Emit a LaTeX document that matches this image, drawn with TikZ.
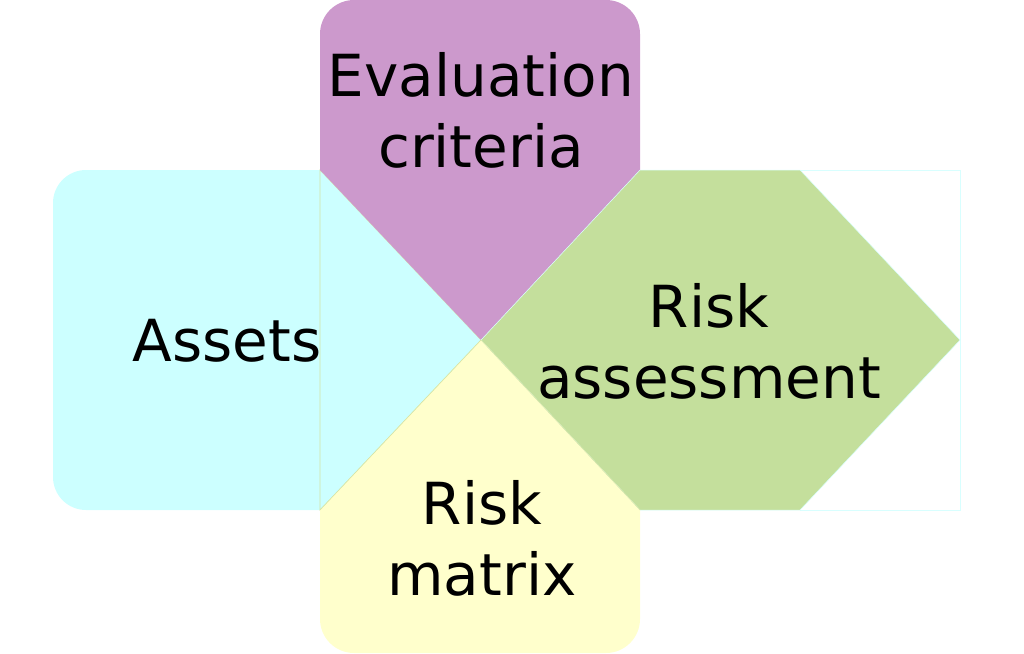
\documentclass[tikz,border=0pt]{standalone}
\usepackage{fontspec}
\setmainfont{DejaVu Sans}
\definecolor{cyanf}{HTML}{CCFFFF}
\definecolor{purplef}{HTML}{CC99CC}
\definecolor{greenf}{HTML}{C4DF9C}
\definecolor{yellowf}{HTML}{FFFFCC}
\definecolor{edgey}{HTML}{D4E4A4}
\definecolor{edgec}{HTML}{D8FFFF}
\tikzset{
  lbl/.style={font=\fontsize{58}{71}\selectfont, align=center, anchor=base, inner sep=0pt, text=black},
}
\begin{document}
\begin{tikzpicture}[x=1pt,y=-1pt]
\useasboundingbox (0,0) rectangle (1024,653);
\coordinate (C) at (481,340);
% right outline rectangle
\draw[edgec, line width=0.8pt] (800,170) -- (960,170) -- (960,510) -- (800,510);
% cyan
\fill[cyanf] (320,170) -- (86,170) arc[start angle=270, end angle=180, radius=33] -- (53,477) arc[start angle=180, end angle=90, radius=33] -- (320,510) -- cycle;
\filldraw[fill=cyanf, draw=edgey, line width=0.6pt] (320,170) -- (C) -- (320,510) -- cycle;
% purple
\fill[purplef] (320,170) -- (320,34) arc[start angle=180, end angle=270, radius=34] -- (606,0) arc[start angle=270, end angle=360, radius=34] -- (640,170) -- (C) -- cycle;
% green
\filldraw[fill=greenf, draw=edgec, line width=0.5pt] (C) -- (640,170) -- (800,170) -- (960,340) -- (800,510) -- (640,510) -- cycle;
% yellow
\fill[yellowf] (320,510) -- (C) -- (640,510) -- (640,619) arc[start angle=0, end angle=90, radius=34] -- (354,653) arc[start angle=90, end angle=180, radius=34] -- cycle;
\draw[edgey, line width=0.5pt] (320,510) -- (C) -- (640,510);
% labels
\node[lbl] (eval) at (481,167) {Evaluation\\criteria};
\node[lbl] (assets) at (227,361) {Assets};
\node[lbl] (riskass) at (709,398) {Risk\\assessment};
\node[lbl] (riskmat) at (482,595) {Risk\\matrix};
\end{tikzpicture}
\end{document}
